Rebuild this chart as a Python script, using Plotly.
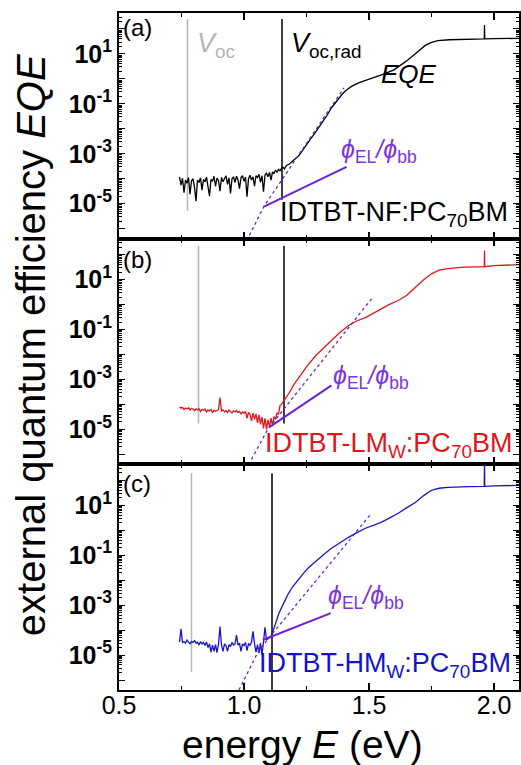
import plotly.graph_objects as go
from plotly.subplots import make_subplots

# ---------------- data ----------------
E_NOISE = [0.742, 0.748, 0.754, 0.760, 0.766, 0.772, 0.778, 0.784, 0.790, 0.796,
           0.802, 0.808, 0.814, 0.820, 0.826, 0.832, 0.838, 0.844, 0.850, 0.856,
           0.862, 0.868, 0.874, 0.880, 0.886, 0.892, 0.898, 0.904, 0.910, 0.916,
           0.922, 0.928, 0.934, 0.940, 0.946, 0.952, 0.958, 0.964, 0.970, 0.976,
           0.982, 0.988, 0.994, 1.000, 1.006, 1.012, 1.018, 1.024, 1.030, 1.036,
           1.042, 1.048, 1.054, 1.060, 1.066, 1.072, 1.078, 1.084, 1.090, 1.096,
           1.102, 1.108, 1.114, 1.120, 1.126, 1.132, 1.138, 1.144, 1.150]

# (a) IDTBT-NF:PC70BM
EQE_A_NOISE = [1.2e-4, 5.6e-5, 1.05e-4, 2.8e-5, 8.9e-5, 6.6e-5, 1.12e-4, 2.4e-5, 8.3e-5, 1.0e-4,
               4.5e-5, 1.26e-5, 8.9e-5, 7.1e-5, 1.1e-4, 3.5e-5, 9.5e-5, 7.6e-5, 1.17e-4, 5.6e-5,
               2.0e-5, 9.5e-5, 7.9e-5, 1.26e-4, 5.0e-5, 1.07e-4, 8.3e-5, 3.2e-5, 1.12e-4, 7.6e-5,
               1.05e-4, 1.32e-4, 6.0e-5, 1.1e-4, 2.6e-5, 1.0e-4, 1.2e-4, 7.1e-5, 1.26e-4, 8.9e-5,
               4.0e-5, 1.12e-4, 1.32e-4, 7.9e-5, 1.17e-4, 1.9e-5, 1.0e-4, 1.38e-4, 8.9e-5, 1.2e-4,
               5.0e-5, 1.32e-4, 1.12e-4, 1.51e-4, 7.1e-5, 1.32e-4, 3.0e-5, 1.41e-4, 1.66e-4, 1.2e-4,
               1.78e-4, 8.9e-5, 1.9e-4, 1.58e-4, 2.24e-4, 1.78e-4, 2.4e-4, 2.1e-4, 2.6e-4]
E_A_TAIL = [1.156, 1.162, 1.17, 1.18, 1.19, 1.20, 1.21, 1.22, 1.235, 1.25,
            1.265, 1.28, 1.30, 1.315, 1.33, 1.35, 1.365, 1.38, 1.395, 1.41,
            1.43, 1.458, 1.50, 1.55, 1.60, 1.62, 1.645, 1.67, 1.70, 1.725,
            1.75, 1.776, 1.82, 1.88, 1.961, 1.962, 1.963, 2.0, 2.05, 2.1]
EQE_A_TAIL = [2.9e-4, 2.5e-4, 3.4e-4, 3.8e-4, 4.6e-4, 5.8e-4, 7.0e-4, 8.5e-4, 1.4e-3, 2.4e-3,
              3.8e-3, 6.0e-3, 1.15e-2, 1.9e-2, 3.2e-2, 7.0e-2, 1.1e-1, 1.7e-1, 2.6e-1, 3.6e-1,
              0.50, 0.69, 0.95, 1.45, 2.3, 3.1, 4.8, 7.6, 14, 22,
              29, 34, 37, 39, 40, 145, 40, 41, 41.5, 42]

# (b) IDTBT-LMw:PC70BM
EQE_B_NOISE = [7.9e-5, 7.1e-5, 7.6e-5, 6.3e-5, 7.2e-5, 6.6e-5, 7.4e-5, 6.0e-5, 6.9e-5, 6.5e-5,
               5.6e-5, 6.6e-5, 6.0e-5, 6.8e-5, 5.2e-5, 6.3e-5, 5.8e-5, 6.5e-5, 5.0e-5, 6.0e-5,
               5.5e-5, 6.2e-5, 4.7e-5, 5.9e-5, 5.2e-5, 5.8e-5, 6.3e-5, 1.9e-4, 5.5e-5, 6.0e-5,
               5.0e-5, 5.6e-5, 4.8e-5, 6.0e-5, 5.2e-5, 4.5e-5, 5.5e-5, 5.0e-5, 5.8e-5, 4.7e-5,
               5.2e-5, 4.2e-5, 5.0e-5, 4.5e-5, 5.2e-5, 2.8e-5, 4.8e-5, 4.0e-5, 2.2e-5, 4.5e-5,
               2.5e-5, 4.2e-5, 1.8e-5, 3.8e-5, 1.6e-5, 3.2e-5, 1.1e-5, 2.8e-5, 1.0e-5, 2.4e-5,
               1.26e-5, 2.8e-5, 1.4e-5, 3.3e-5, 2.5e-5, 4.5e-5, 4.0e-5, 8.9e-5, 1.0e-4]
E_B_TAIL = [1.156, 1.165, 1.18, 1.20, 1.22, 1.25, 1.287, 1.32, 1.35, 1.38,
            1.418, 1.45, 1.486, 1.52, 1.55, 1.58, 1.617, 1.65, 1.685, 1.72,
            1.75, 1.78, 1.816, 1.88, 1.961, 1.962, 1.963, 2.0, 2.05, 2.1]
EQE_B_TAIL = [1.2e-4, 1.7e-4, 2.8e-4, 6.3e-4, 1.2e-3, 3.2e-3, 9.1e-3, 1.9e-2, 3.6e-2, 7.1e-2,
              0.145, 0.22, 0.30, 0.46, 0.69, 1.0, 1.45, 2.3, 4.8, 10,
              17, 24, 27.5, 31.6, 33, 145, 33, 36, 38, 40]

# (c) IDTBT-HMw:PC70BM  (noise uses the first 61 energies)
EQE_C_NOISE = [3.3e-5, 1.12e-4, 3.2e-5, 3.5e-5, 3.0e-5, 4.0e-5, 3.3e-5, 2.8e-5, 3.5e-5, 3.2e-5,
               3.8e-5, 3.0e-5, 3.3e-5, 2.5e-5, 3.5e-5, 2.8e-5, 3.2e-5, 2.4e-5, 3.3e-5, 2.0e-5,
               2.8e-5, 1.3e-5, 2.5e-5, 1.4e-5, 2.6e-5, 1.26e-5, 2.8e-5, 1.4e-4, 2.5e-5, 1.4e-5,
               2.8e-5, 2.4e-5, 1.4e-5, 2.6e-5, 2.2e-5, 3.2e-5, 2.5e-5, 2.8e-5, 6.3e-5, 2.5e-5,
               3.0e-5, 1.4e-5, 2.8e-5, 2.4e-5, 3.2e-5, 1.5e-5, 2.8e-5, 2.5e-5, 3.3e-5, 8.9e-5,
               2.8e-5, 1.3e-5, 2.6e-5, 1.2e-5, 3.0e-5, 1.0e-5, 3.5e-5, 1.3e-4, 4.0e-5, 4.5e-5,
               5.0e-5]
E_C_TAIL = [1.108, 1.12, 1.13, 1.14, 1.16, 1.175, 1.193, 1.22, 1.24, 1.26,
            1.28, 1.30, 1.325, 1.35, 1.38, 1.418, 1.45, 1.486, 1.52, 1.55,
            1.585, 1.617, 1.65, 1.685, 1.72, 1.75, 1.78, 1.816, 1.9, 1.961,
            1.962, 1.963, 2.0, 2.05, 2.1]
EQE_C_TAIL = [5.2e-5, 1.3e-4, 2.5e-4, 4.8e-4, 1.26e-3, 2.6e-3, 5.2e-3, 1.2e-2, 2.0e-2, 3.3e-2,
              5.0e-2, 7.6e-2, 0.12, 0.19, 0.30, 0.52, 0.78, 1.2, 1.6, 2.1,
              3.2, 4.8, 7.9, 13, 25, 40, 48, 52, 56, 57,
              1000, 57, 60, 62, 63]

# exponential-tail fits (dashed) and phi_EL/phi_bb (solid purple)
FIT_E = [[1.0, 1.08, 1.40], [1.03, 1.095, 1.51], [0.98, 1.06, 1.51]]
FIT_EQE = [[2e-7, 7.9e-6, 0.44], [6.3e-7, 1.0e-5, 1.7], [4e-7, 1.6e-5, 4.8]]
ELBB_E = [[1.08, 1.41], [1.10, 1.35], [1.075, 1.347]]
ELBB = [[7.6e-6, 3.0e-4], [1.2e-5, 5.8e-4], [4.0e-5, 4.8e-4]]

# Voc and Voc,rad (eV) with the vertical extent of their markers
VOC = [0.774, 0.818, 0.790]
VOC_RAD = [1.152, 1.160, 1.112]
VOC_SPAN = [[250, 5.2e-6], [229, 1.74e-5], [190, 2.1e-6]]
VOCRAD_SPAN = [[250, 1.45e-5], [229, 1.74e-5], [190, 4e-7]]

SAMPLES = ["IDTBT-NF:PC<sub>70</sub>BM",
           "IDTBT-LM<sub>W</sub>:PC<sub>70</sub>BM",
           "IDTBT-HM<sub>W</sub>:PC<sub>70</sub>BM"]
PANELS = ["(a)", "(b)", "(c)"]
COLORS = ["#000000", "#e0161b", "#1515c8"]
X_TICKS = [0.5, 1.0, 1.5, 2.0]
Y_DECADES = [1e-6, 1e-5, 1e-4, 1e-3, 1e-2, 1e-1, 1e0, 1e1, 1e2]
Y_LABELS = ["", "10<sup>-5</sup>", "", "10<sup>-3</sup>", "", "10<sup>-1</sup>", "",
            "10<sup>1</sup>", ""]
MINOR_MANT = [2, 3, 4, 5, 6, 7, 8, 9]

PURPLE_LINE = "#6a22d6"
PURPLE_TEXT = "#7d35e0"
FONT = "Arial, Liberation Sans, sans-serif"
PHI = "\u03d5"

E_all = [E_NOISE + E_A_TAIL, E_NOISE + E_B_TAIL, E_NOISE[:61] + E_C_TAIL]
EQE_all = [EQE_A_NOISE + EQE_A_TAIL, EQE_B_NOISE + EQE_B_TAIL, EQE_C_NOISE + EQE_C_TAIL]

fig = make_subplots(rows=3, cols=1, shared_xaxes=True, vertical_spacing=0)

for i in range(3):
    r = i + 1
    fig.add_trace(go.Scatter(x=[VOC[i], VOC[i]], y=VOC_SPAN[i], mode="lines",
                             line=dict(color="#b5b5b5", width=1.5), showlegend=False), row=r, col=1)
    fig.add_trace(go.Scatter(x=[VOC_RAD[i], VOC_RAD[i]], y=VOCRAD_SPAN[i], mode="lines",
                             line=dict(color="#000000", width=1.5), showlegend=False), row=r, col=1)
    fig.add_trace(go.Scatter(x=E_all[i], y=EQE_all[i], mode="lines",
                             line=dict(color=COLORS[i], width=1.3), showlegend=False), row=r, col=1)
    fig.add_trace(go.Scatter(x=FIT_E[i], y=FIT_EQE[i], mode="lines",
                             line=dict(color=PURPLE_LINE, width=1.3, dash="3px,3px"),
                             showlegend=False), row=r, col=1)
    fig.add_trace(go.Scatter(x=ELBB_E[i], y=ELBB[i], mode="lines",
                             line=dict(color=PURPLE_LINE, width=2), showlegend=False), row=r, col=1)

minor_vals = [m * d for d in Y_DECADES for m in MINOR_MANT]

fig.update_xaxes(range=[0.5, 2.1], showline=True, linecolor="black", linewidth=2,
                 mirror="ticks", ticks="inside", ticklen=7, tickwidth=1.5, tickcolor="black",
                 tickmode="array", tickvals=X_TICKS, tickformat=".1f",
                 minor=dict(ticks="inside", ticklen=4, tickwidth=1.2, tickcolor="black",
                            tick0=0.25, dtick=0.5),
                 showgrid=False, zeroline=False,
                 tickfont=dict(family=FONT, size=25, color="black"))
fig.update_xaxes(ticklabelstandoff=-8, row=3, col=1)
fig.update_yaxes(type="log", range=[-6.4, 2.64], showline=True, linecolor="black", linewidth=2,
                 mirror="ticks", ticks="inside", ticklen=6, tickwidth=1.3, tickcolor="black",
                 tickmode="array", tickvals=Y_DECADES,
                 ticktext=["<b>%s</b>" % t if t else "" for t in Y_LABELS],
                 minor=dict(ticks="inside", ticklen=3, tickwidth=1, tickcolor="black",
                            tickmode="array", tickvals=minor_vals),
                 showgrid=False, zeroline=False,
                 tickfont=dict(family=FONT, size=25, color="black"))

ann = []
panel_y = [2.04, 1.8, 1.88]
phi_xy = [(1.538, -2.9), (1.506, -2.92), (1.487, -2.68)]
samp_xy = [(1.598, -5.42), (1.578, -5.62), (1.565, -5.38)]
for i in range(3):
    xr = "x" if i == 0 else "x%d" % (i + 1)
    yr = "y" if i == 0 else "y%d" % (i + 1)
    ann.append(dict(x=0.507, y=panel_y[i], xref=xr, yref=yr, text=PANELS[i], showarrow=False,
                    xanchor="left", yanchor="middle",
                    font=dict(family=FONT, size=24, color="black")))
    ann.append(dict(x=phi_xy[i][0], y=phi_xy[i][1], xref=xr, yref=yr,
                    text="<i>%s</i><sub>EL</sub><i>/%s</i><sub>bb</sub>" % (PHI, PHI),
                    showarrow=False, xanchor="center", yanchor="middle",
                    font=dict(family=FONT, size=25, color=PURPLE_TEXT)))
    ann.append(dict(x=samp_xy[i][0], y=samp_xy[i][1], xref=xr, yref=yr, text=SAMPLES[i],
                    showarrow=False, xanchor="center", yanchor="middle",
                    font=dict(family=FONT, size=27, color=COLORS[i])))

ann.append(dict(x=0.802, y=2.12, xref="x", yref="y", text="<i>V</i><sub>oc</sub>",
                showarrow=False, xanchor="left", yanchor="top",
                font=dict(family=FONT, size=27, color="#b5b5b5")))
ann.append(dict(x=1.178, y=2.12, xref="x", yref="y", text="<i>V</i><sub>oc,rad</sub>",
                showarrow=False, xanchor="left", yanchor="top",
                font=dict(family=FONT, size=27, color="black")))
ann.append(dict(x=1.66, y=0.2, xref="x", yref="y", text="<i>EQE</i>",
                showarrow=False, xanchor="center", yanchor="middle",
                font=dict(family=FONT, size=26, color="black")))
ann.append(dict(x=-0.2214, y=0.51, xref="paper", yref="paper",
                text="external quantum efficiency <i>EQE</i>", textangle=-90,
                showarrow=False, xanchor="center", yanchor="middle",
                font=dict(family=FONT, size=40, color="black")))
ann.append(dict(x=0.458, y=-0.08, xref="paper", yref="paper",
                text="energy <i>E</i> (eV)",
                showarrow=False, xanchor="center", yanchor="middle",
                font=dict(family=FONT, size=39, color="black")))

fig.update_layout(width=521, height=765, margin=dict(l=119, r=0, t=13, b=75),
                  plot_bgcolor="white", paper_bgcolor="white", annotations=ann,
                  showlegend=False)

fig.write_html("out.html")
